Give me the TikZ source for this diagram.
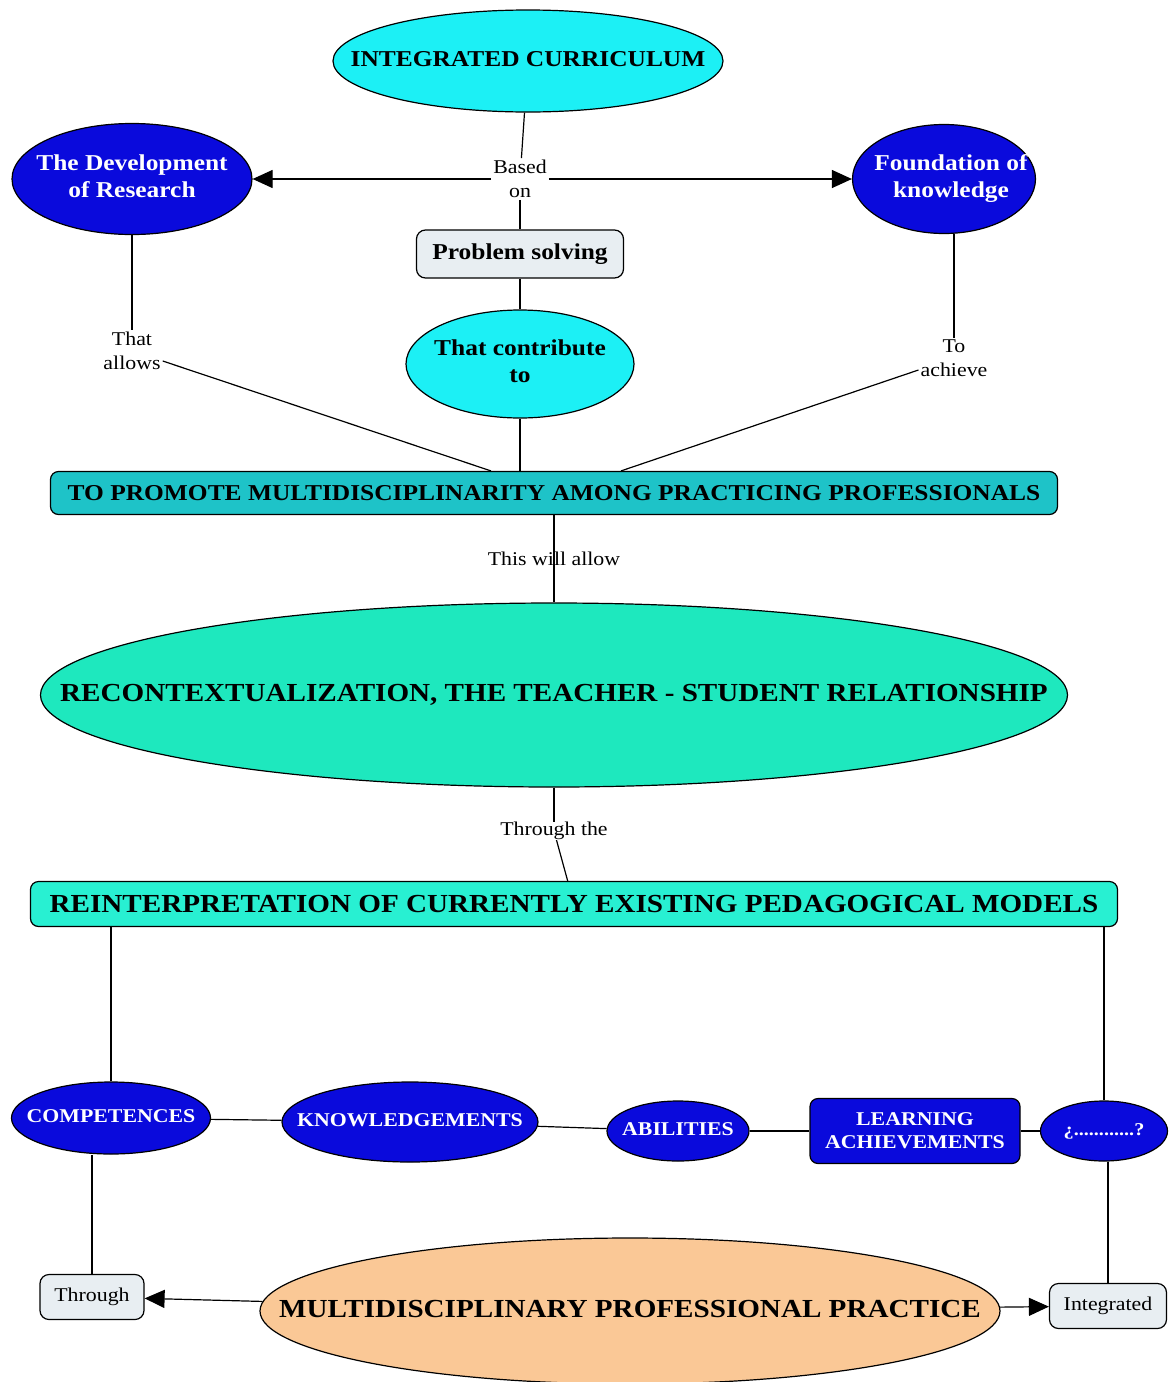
\documentclass[tikz,border=0pt]{standalone}
\usepackage{fontspec}
\setmainfont{Liberation Serif}[FakeStretch=1.12]
\usetikzlibrary{shapes.geometric,positioning,arrows.meta}

\definecolor{cyanfill}{RGB}{28,240,245}
\definecolor{bluefill}{RGB}{10,10,220}
\definecolor{tealfill}{RGB}{30,195,200}
\definecolor{greenfill}{RGB}{30,232,190}
\definecolor{aquafill}{RGB}{40,240,210}
\definecolor{peachfill}{RGB}{250,200,150}
\definecolor{greyfill}{RGB}{232,238,242}

% text of an ellipse, kept out of its size
\newcommand{\ctext}[1]{\makebox[0pt]{\begin{tabular}{@{}c@{}}#1\end{tabular}}}

\tikzset{
  concept/.style={ellipse, draw=black, line width=1.2pt, inner sep=0pt,
    font=\bfseries\fontsize{22.7}{27}\selectfont},
  cyanc/.style={concept, fill=cyanfill},
  bluec/.style={concept, fill=bluefill, text=white},
  smallc/.style={bluec, font=\bfseries\fontsize{19.5}{23}\selectfont},
  bar/.style={rectangle, rounded corners=8pt, draw=black, line width=1.2pt, inner sep=0pt,
    font=\bfseries\fontsize{22.7}{27}\selectfont},
  linkbox/.style={rectangle, rounded corners=9pt, draw=black, line width=1.2pt,
    fill=greyfill, inner sep=0pt, font=\fontsize{19.5}{23}\selectfont},
  lbl/.style={align=center, inner sep=2pt, font=\fontsize{19.5}{23.5}\selectfont},
  conn/.style={line width=1.2pt},
  arr/.style={conn, -{Triangle[length=20pt,width=18pt]}}
}

\begin{document}
\begin{tikzpicture}[x=1pt, y=-1pt, on grid]
      \useasboundingbox (0,0) rectangle (1175,1382);
      % Define nodes
      \node[cyanc, minimum width=390pt, minimum height=102pt] (intc) at (528,61) {\ctext{INTEGRATED CURRICULUM}};
      \node[lbl, below=118pt of intc, xshift=-8pt] (based) {Based\\on};
      \node[bluec, left=388pt of based, minimum width=240pt, minimum height=111pt] (dev) {\ctext{The Development\\of Research}};
      \node[bluec, right=424pt of based, minimum width=183pt, minimum height=109pt] (found) {\ctext{\hspace*{14pt}Foundation of\\\hspace*{14pt}knowledge}};
      \node[linkbox, below=75pt of based, minimum width=207pt, minimum height=48pt,
        font=\bfseries\fontsize{22.7}{27}\selectfont] (prob) {Problem solving};
      \node[cyanc, below=110pt of prob, minimum width=228pt, minimum height=108pt] (contrib) {\ctext{That contribute\\to}};
      \node[lbl, below=172pt of dev] (allows) {That\\allows};
      \node[lbl, below=179pt of found, xshift=10pt] (achieve) {To\\achieve};
      \node[bar, fill=tealfill, below=129pt of contrib, xshift=34pt, minimum width=1007pt, minimum height=43pt] (promote)
        {TO PROMOTE MULTIDISCIPLINARITY AMONG PRACTICING PROFESSIONALS};
      \node[concept, fill=greenfill, below=202pt of promote, minimum width=1027pt, minimum height=184pt,
        font=\bfseries\fontsize{26}{30}\selectfont] (recon)
        {\ctext{RECONTEXTUALIZATION, THE TEACHER - STUDENT RELATIONSHIP}};
      \node[lbl, inner sep=0pt, below=136pt of recon] (thru) {Through the};
      \node[bar, fill=aquafill, below=73pt of thru, xshift=20pt, minimum width=1087pt, minimum height=45pt,
        font=\bfseries\fontsize{26}{30}\selectfont] (reinterp)
        {REINTERPRETATION OF CURRENTLY EXISTING PEDAGOGICAL MODELS};
      % lower row
      \node[smallc, minimum width=199pt, minimum height=72pt] (comp) at (111,1118) {\ctext{COMPETENCES}};
      \node[smallc, right=299pt of comp, yshift=-4pt, minimum width=256pt, minimum height=80pt] (know) {\ctext{KNOWLEDGEMENTS}};
      \node[smallc, right=268pt of know, yshift=-9pt, minimum width=142pt, minimum height=60pt] (abil) {\ctext{ABILITIES}};
      \node[bar, fill=bluefill, text=white, right=237pt of abil, minimum width=210pt, minimum height=65pt,
        align=center, font=\bfseries\fontsize{19.5}{23}\selectfont] (learn) {LEARNING\\ACHIEVEMENTS};
      \node[smallc, right=189pt of learn, minimum width=127pt, minimum height=60pt,
        font=\bfseries\fontsize{18}{22}\selectfont] (quest) {\ctext{¿............?}};
      \node[linkbox, below=179pt of comp, xshift=-19pt, minimum width=104pt, minimum height=45pt] (through) {Through};
      \node[concept, fill=peachfill, right=538pt of through, yshift=-14pt, minimum width=740pt, minimum height=146pt,
        font=\bfseries\fontsize{26}{30}\selectfont] (multi) {\ctext{MULTIDISCIPLINARY PROFESSIONAL PRACTICE}};
      \node[linkbox, right=478pt of multi, yshift=5pt, minimum width=117pt, minimum height=45pt] (integ) {Integrated};
      % Connect nodes
      \draw[conn] (intc) -- (based);
      \draw[arr] (based) -- (dev);
      \draw[arr] (based) -- (found);
      \draw[conn] (based) -- (prob);
      \draw[conn] (prob) -- (contrib);
      \draw[conn] (contrib.south) -- (contrib.south |- promote.north);
      \draw[conn] (dev) -- (allows);
      \draw[conn] ([yshift=-10pt]allows.east) -- ([xshift=-63pt]promote.north);
      \draw[conn] (achieve.north) -- (achieve.north |- found.south);
      \draw[conn] ([yshift=-12pt]achieve.west) -- ([xshift=67pt]promote.north);
      \draw[conn] (promote) -- node[lbl, fill=none] (allow) {This will allow} (recon);
      \draw[conn] (recon) -- (thru);
      \draw[conn] (thru) -- (reinterp);
      \draw[conn] (comp.north) -- (comp.north |- reinterp.south);
      \draw[conn] (quest.north) -- (quest.north |- reinterp.south);
      \draw[conn] (comp) -- (know);
      \draw[conn] (know) -- (abil);
      \draw[conn] (abil) -- (learn);
      \draw[conn] (learn) -- (quest);
      \draw[conn] (through.north) -- (through.north |- comp.south);
      \draw[conn] (integ.north) -- (integ.north |- quest.south);
      \draw[arr] (multi) -- (through);
      \draw[arr] (multi) -- (integ);
    \end{tikzpicture}
\end{document}
